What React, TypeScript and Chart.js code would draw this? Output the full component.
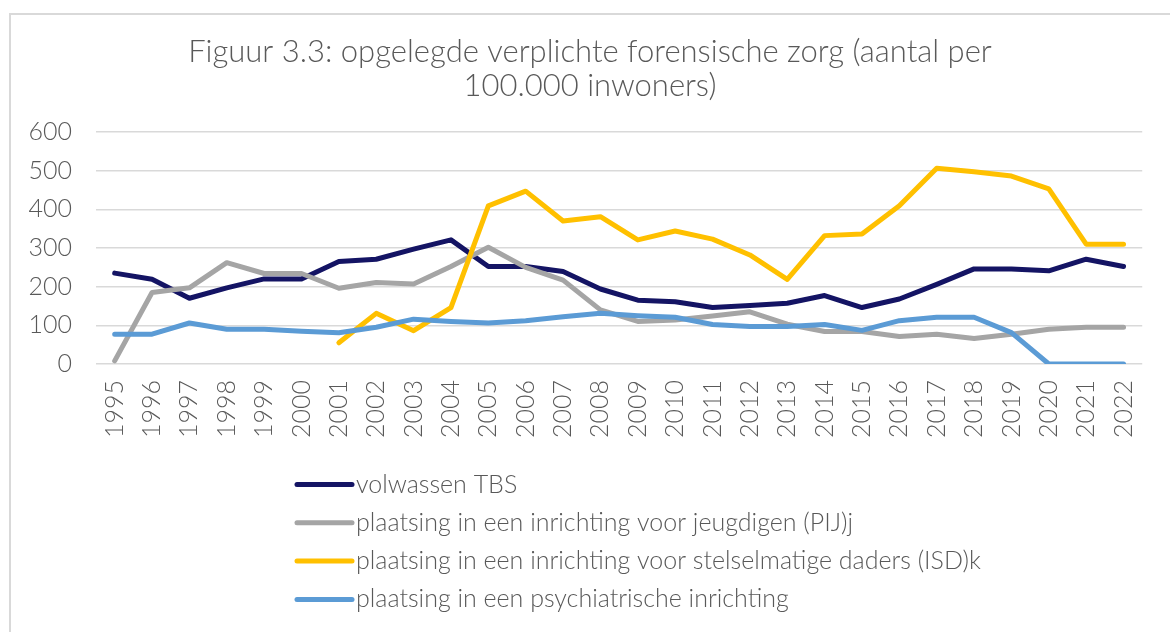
import React, { useEffect, useRef } from "react";
import { Chart, registerables } from "chart.js";

Chart.register(...registerables);

const years = [
  "1995","1996","1997","1998","1999","2000","2001","2002","2003","2004",
  "2005","2006","2007","2008","2009","2010","2011","2012","2013","2014",
  "2015","2016","2017","2018","2019","2020","2021","2022",
];

const titleLines = [
  "Figuur 3.3: opgelegde verplichte forensische zorg (aantal per",
  "100.000 inwoners)",
];

const seriesNames = [
  "volwassen TBS",
  "plaatsing in een inrichting voor jeugdigen (PIJ)j",
  "plaatsing in een inrichting voor stelselmatige daders (ISD)k",
  "plaatsing in een psychiatrische inrichting",
];

const tbs = [235,219,170,197,220,220,265,271,297,321,252,252,239,194,165,161,146,151,157,177,146,168,206,246,246,241,271,252];
const pij = [8,185,197,262,234,234,196,211,207,252,302,250,217,140,110,114,124,135,103,84,84,71,77,66,77,90,95,95];
const isd = [null,null,null,null,null,null,55,131,86,146,409,447,370,381,321,344,323,282,219,332,336,409,506,497,486,453,310,310];
const psy = [77,77,106,90,90,85,81,95,116,110,106,112,122,131,125,121,102,97,97,102,87,112,121,121,81,0,0,0];

const yTicks = [0, 100, 200, 300, 400, 500, 600];

const colors = ["#141464", "#a5a5a5", "#ffc000", "#5b9bd5"];
const textColor = "#595959";
const fontFamily = "Lato, 'Open Sans', sans-serif";

const legendPlugin = {
  id: "verticalLegend",
  afterDraw(chart: any) {
    const ctx = chart.ctx;
    const x0 = 297;
    const lineLen = 55;
    const y0 = 484.5;
    const step = 38.3;
    ctx.save();
    chart.data.datasets.forEach((ds: any, i: number) => {
      const y = y0 + i * step;
      ctx.strokeStyle = ds.borderColor;
      ctx.lineWidth = 5;
      ctx.lineCap = "round";
      ctx.beginPath();
      ctx.moveTo(x0, y);
      ctx.lineTo(x0 + lineLen, y);
      ctx.stroke();
      ctx.fillStyle = textColor;
      ctx.font = `300 25px ${fontFamily}`;
      ctx.textBaseline = "middle";
      ctx.textAlign = "left";
      ctx.fillText(ds.label, x0 + lineLen + 4, y);
    });
    ctx.restore();
  },
};

function LineChart() {
  const ref = useRef<HTMLCanvasElement | null>(null);
  useEffect(() => {
    document.body.style.margin = "0";
    if (!ref.current) return;
    const all = [tbs, pij, isd, psy];
    const chart = new Chart(ref.current, {
      type: "line",
      data: {
        labels: years,
        datasets: all.map((d, i) => ({
          label: seriesNames[i],
          data: d,
          borderColor: colors[i],
          backgroundColor: colors[i],
          borderWidth: 5,
          pointRadius: 0,
          pointHoverRadius: 0,
          tension: 0,
          borderJoinStyle: "round" as const,
          borderCapStyle: "round" as const,
          order: 4 - i,
        })),
      },
      options: {
        responsive: false,
        animation: false,
        layout: { padding: { left: 26, right: 16, top: 0, bottom: 188 } },
        plugins: {
          legend: { display: false },
          tooltip: { enabled: false },
          title: {
            display: true,
            text: titleLines,
            color: textColor,
            font: { family: fontFamily, size: 31, weight: "300" as any, lineHeight: 34 / 31 },
            padding: { top: 35, bottom: 29 },
          },
        },
        scales: {
          x: {
            type: "category",
            offset: true,
            grid: { display: false, drawTicks: false },
            border: { display: false },
            ticks: {
              color: textColor,
              font: { family: fontFamily, size: 25, weight: "300" as any },
              minRotation: 90,
              maxRotation: 90,
              autoSkip: false,
              padding: 16,
            },
            afterFit(scale: any) {
              scale.height = 80;
            },
          },
          y: {
            min: 0,
            max: 600,
            grid: { color: "#d9d9d9", lineWidth: 1.5, drawTicks: false },
            border: { display: false },
            afterBuildTicks(scale: any) {
              scale.ticks = yTicks.map((v) => ({ value: v }));
            },
            ticks: {
              color: textColor,
              font: { family: fontFamily, size: 25, weight: "300" as any },
              padding: 24,
            },
            afterFit(scale: any) {
              scale.width = 70;
            },
          },
          y2: {
            position: "right",
            display: true,
            grid: { display: false, drawTicks: false },
            border: { display: false },
            ticks: { display: false },
            afterFit(scale: any) {
              scale.width = 10;
            },
          },
        },
      },
      plugins: [legendPlugin],
    });
    return () => chart.destroy();
  }, []);
  return <canvas ref={ref} width={1170} height={632} style={{ position: "absolute", left: 0, top: 0 }} />;
}

export default function App() {
  return (
    <div style={{ position: "relative", width: 1170, height: 632, overflow: "hidden", background: "#fff" }}>
      <div
        style={{
          position: "absolute",
          left: 9,
          top: 13,
          width: 1300,
          height: 800,
          border: "2px solid #d9d9d9",
          boxSizing: "border-box",
        }}
      />
      <LineChart />
    </div>
  );
}
